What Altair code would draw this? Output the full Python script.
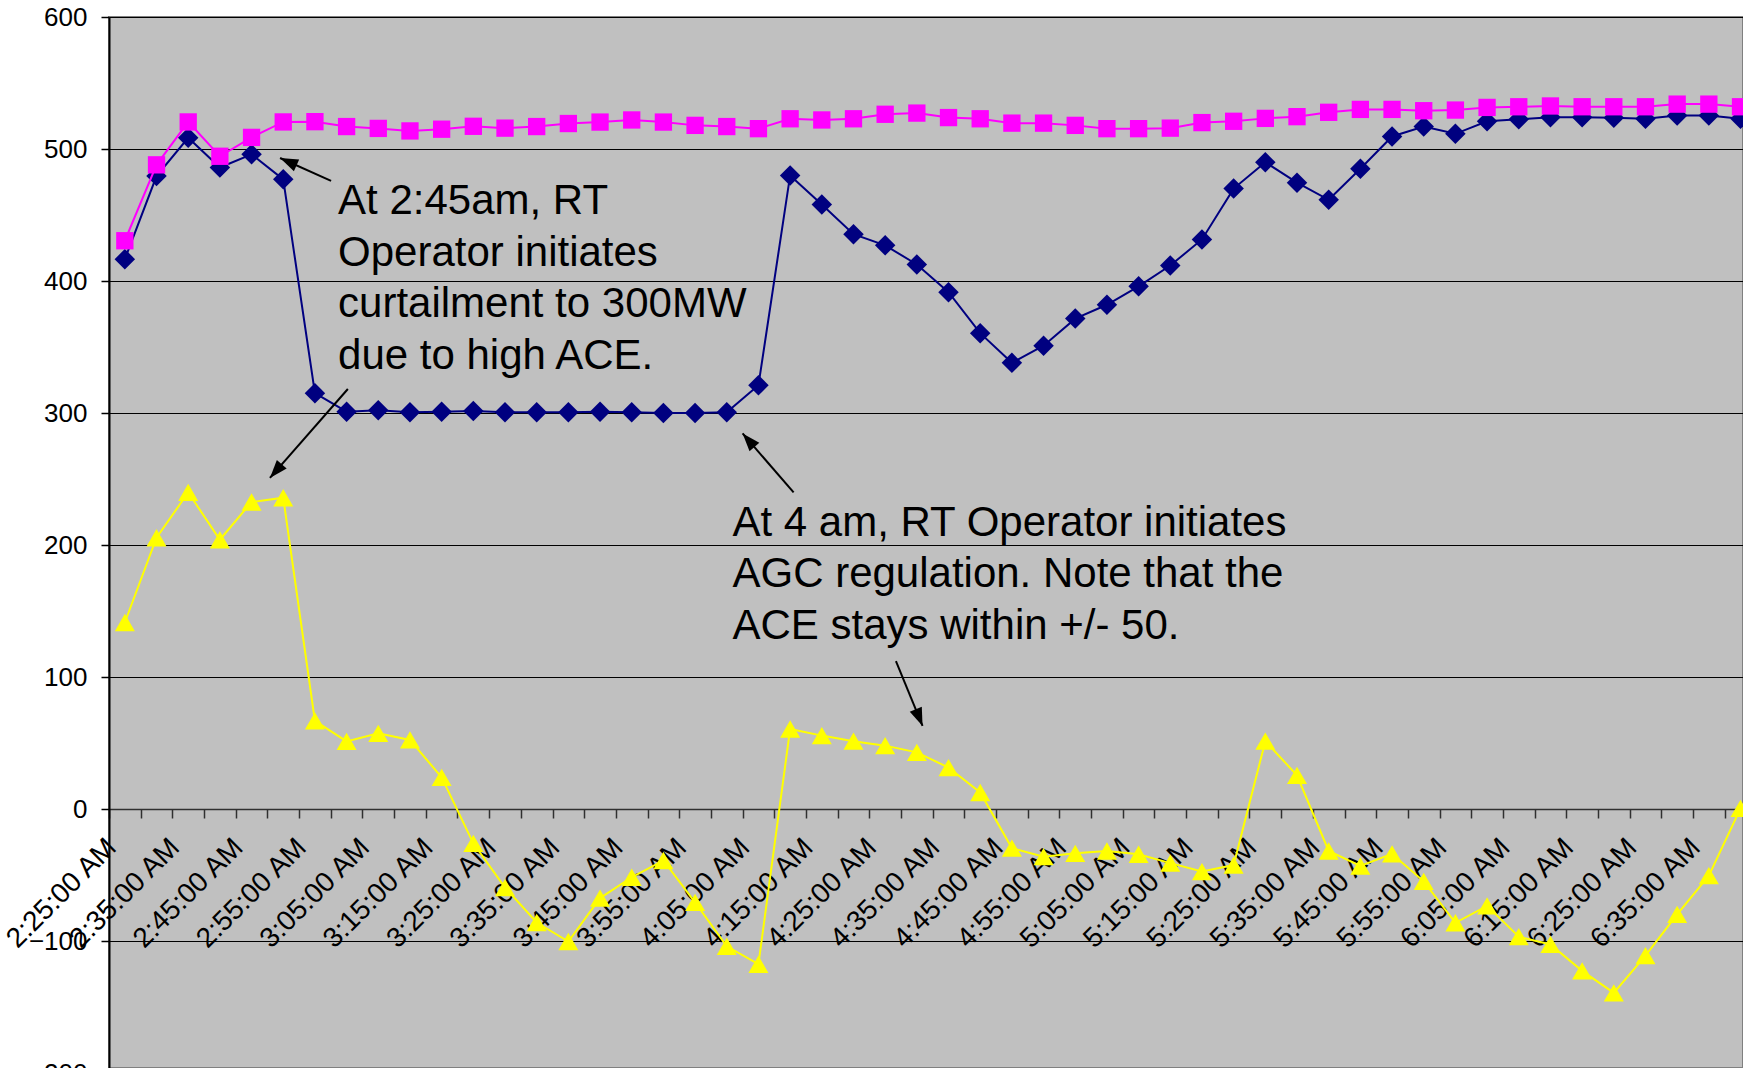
import json
import altair as alt
import pandas as pd

# Five-minute intervals along the category axis
times = [
    "2:25:00 AM", "2:30:00 AM", "2:35:00 AM", "2:40:00 AM", "2:45:00 AM", "2:50:00 AM",
    "2:55:00 AM", "3:00:00 AM", "3:05:00 AM", "3:10:00 AM", "3:15:00 AM", "3:20:00 AM",
    "3:25:00 AM", "3:30:00 AM", "3:35:00 AM", "3:40:00 AM", "3:45:00 AM", "3:50:00 AM",
    "3:55:00 AM", "4:00:00 AM", "4:05:00 AM", "4:10:00 AM", "4:15:00 AM", "4:20:00 AM",
    "4:25:00 AM", "4:30:00 AM", "4:35:00 AM", "4:40:00 AM", "4:45:00 AM", "4:50:00 AM",
    "4:55:00 AM", "5:00:00 AM", "5:05:00 AM", "5:10:00 AM", "5:15:00 AM", "5:20:00 AM",
    "5:25:00 AM", "5:30:00 AM", "5:35:00 AM", "5:40:00 AM", "5:45:00 AM", "5:50:00 AM",
    "5:55:00 AM", "6:00:00 AM", "6:05:00 AM", "6:10:00 AM", "6:15:00 AM", "6:20:00 AM",
    "6:25:00 AM", "6:30:00 AM", "6:35:00 AM", "6:40:00 AM",
]

# Actual output (MW)
output_mw = [
    416.5, 479.5, 508.5, 486, 496, 477, 315, 301, 302, 300.5,
    301, 301.5, 300.5, 300.5, 300.5, 301, 300.5, 300, 300, 300.5,
    321, 480, 458, 435.5, 427, 412.5, 391.5, 360.5, 338, 351,
    371.5, 382, 396, 411.7, 431.5, 470, 490, 474.5, 461.5, 485,
    509.5, 517, 511.5, 521, 522.5, 524, 524, 523.6, 523, 525.3,
    525.3, 523,
]

# Available output (MW)
available_mw = [
    430.5, 488, 520.5, 494.5, 508.8, 520.5, 520.7, 517, 515.6, 513.7,
    515, 517.2, 515.8, 517, 519.3, 520.4, 522, 520.4, 517.9, 517,
    515.4, 522.9, 522, 522.9, 526.3, 527.2, 523.8, 522.9, 519.6, 519.6,
    517.9, 515.4, 515.4, 515.8, 520, 521, 523.2, 524.5, 527.8, 530,
    530, 529, 529.5, 531.5, 532, 532.6, 532, 532, 532, 534,
    534, 532,
]

# Area control error
ace = [
    141.3, 205.5, 239.8, 204, 232.6, 235.8, 66.7, 51.2, 57.3, 52.3,
    24, -26, -59.5, -86, -100.4, -67.5, -51.7, -39, -70.7, -104,
    -117.6, 60.6, 55.6, 51.4, 48, 42.9, 31.4, 12.5, -29.6, -36.1,
    -33.6, -31.8, -34.3, -41, -47.4, -42.5, 51.4, 25.5, -31.8, -43.2,
    -34, -54.8, -86.2, -73.4, -96.7, -102.6, -122.6, -139.3, -111.1, -79.8,
    -50.5, 0.5,
]

y_ticks = [-200, -100, 0, 100, 200, 300, 400, 500, 600]

# Callouts: text anchored in data space (category position, value)
notes = pd.DataFrame({
    "pos": [7.23, 19.68],
    "value": [450.4, 207.0],
    "text": [
        "At 2:45am, RT\nOperator initiates\ncurtailment to 300MW\ndue to high ACE.",
        "At 4 am, RT Operator initiates\nAGC regulation. Note that the\nACE stays within +/- 50.",
    ],
})

arrows = pd.DataFrame({
    "tail_pos": [7.01, 7.54, 21.61, 24.84],
    "tail_val": [475.8, 318.2, 239.8, 112.1],
    "tip_pos": [5.40, 5.08, 20.00, 25.68],
    "tip_val": [493.2, 250.8, 284.5, 62.9],
    "angle": [294, 221, 319, 158],
})

n_cat = len(times)
FONT = "Liberation Sans"
CAT_PX = 31.68

# one label every other interval, centred on its category
tick_labels = [times[i] if (i % 2 == 0 and i < n_cat) else "" for i in range(n_cat + 1)]


def series_frame(values):
    return pd.DataFrame({"pos": [i + 0.5 for i in range(len(values))], "value": values})


x_scale = alt.Scale(domain=[0, n_cat], range=[0, n_cat * CAT_PX], nice=False, zero=False)
y_scale = alt.Scale(domain=[-200, 600], range=[1056, 0], nice=False, zero=False)

x_axis = alt.Axis(
    values=list(range(0, n_cat + 1)),
    labelExpr=f"{json.dumps(tick_labels)}[datum.value]",
    labelAngle=315, labelAlign="right", labelBaseline="middle",
    labelOffset=2.5, labelPadding=25,
    labelOverlap=False, labelBound=False, labelFlush=False,
    labelFont=FONT, labelFontSize=28, labelColor="black",
    tickSize=9, tickColor="#303030", tickWidth=1.5,
    domainColor="#303030", domainWidth=1.5,
    grid=False, offset=-259, title=None,
)
y_axis = alt.Axis(
    values=y_ticks,
    labelFont=FONT, labelFontSize=26, labelColor="black", labelPadding=14,
    labelOverlap=False, labelBound=False, labelFlush=False,
    tickSize=8, tickColor="black", tickWidth=1.5,
    domainColor="black", domainWidth=2,
    grid=True, gridColor="black", gridWidth=1, title=None,
)


def xq(field):
    return alt.X(field, type="quantitative", scale=x_scale, axis=x_axis)


def yq(field):
    return alt.Y(field, type="quantitative", scale=y_scale, axis=y_axis)


def line_layers(values, color, shape, size):
    df = series_frame(values)
    line = alt.Chart(df).mark_line(color=color, strokeWidth=2).encode(
        x=xq("pos"), y=yq("value")
    )
    pts = alt.Chart(df).mark_point(
        shape=shape, size=size, filled=True, color=color, opacity=1
    ).encode(x=xq("pos"), y=yq("value"))
    return [line, pts]


layers = []
layers += line_layers(output_mw, "#000080", "diamond", 420)
layers += line_layers(available_mw, "#FF00FF", "square", 300)
layers += line_layers(ace, "#FFFF00", "triangle-up", 400)

shafts = alt.Chart(arrows).mark_rule(color="black", strokeWidth=2).encode(
    x=xq("tail_pos"),
    y=yq("tail_val"),
    x2="tip_pos:Q",
    y2="tip_val:Q",
)
heads = alt.Chart(arrows).mark_point(
    shape="M0,0L-0.36,1L0.36,1Z", size=1300, filled=True, color="black", opacity=1
).encode(
    x=xq("tip_pos"),
    y=yq("tip_val"),
    angle=alt.Angle("angle:Q", scale=None),
)
labels = alt.Chart(notes).mark_text(
    align="left", baseline="alphabetic", font=FONT, fontSize=42,
    lineHeight=51.5, lineBreak="\n", color="black",
).encode(
    x=xq("pos"),
    y=yq("value"),
    text="text:N",
)

chart = (
    alt.layer(*layers, shafts, heads, labels)
    .properties(
        width=1634,
        height=1051,
        padding={"left": 109, "top": 17, "right": 0, "bottom": 0},
        autosize=alt.AutoSizeParams(type="none"),
        background="white",
    )
    .configure_view(fill="#C0C0C0", stroke="#808080", strokeWidth=2)
)

chart.save("out.html", embed_options={"renderer": "svg", "actions": False})
